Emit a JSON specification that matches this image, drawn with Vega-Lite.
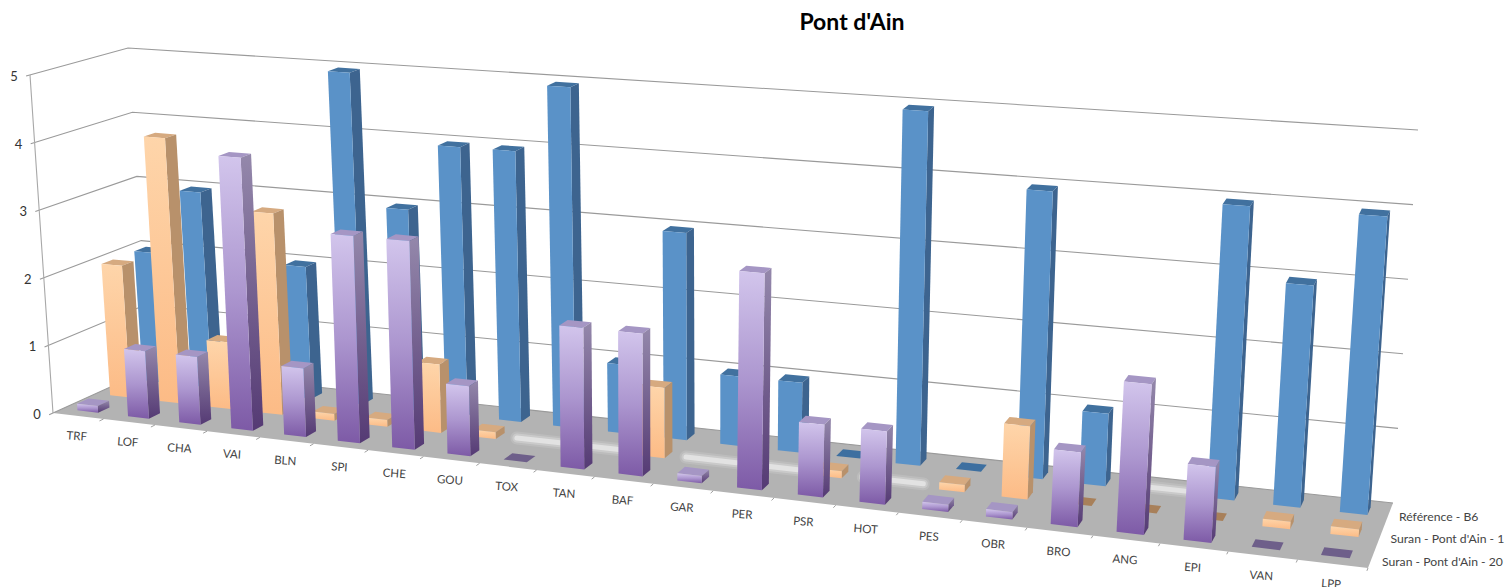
{"$schema":"https://vega.github.io/schema/vega-lite/v6.json","width":1508,"height":587,"autosize":"none","padding":0,"background":"white","config":{"view":{"stroke":null}},
"title":{"text":"Pont d'Ain","font":"Lato","fontSize":23,"fontWeight":"bold","color":"#000000","anchor":"middle","dx":98,"offset":-35},
"datasets":{"levels":[{"value":0},{"value":1},{"value":2},{"value":3},{"value":4},{"value":5}],
"bars":[
{"category":"TRF","series":"Référence - B6","value":2},{"category":"LOF","series":"Référence - B6","value":3},{"category":"CHA","series":"Référence - B6","value":0},{"category":"VAI","series":"Référence - B6","value":2},{"category":"BLN","series":"Référence - B6","value":5},{"category":"SPI","series":"Référence - B6","value":3},{"category":"CHE","series":"Référence - B6","value":4},{"category":"GOU","series":"Référence - B6","value":4},{"category":"TOX","series":"Référence - B6","value":5},{"category":"TAN","series":"Référence - B6","value":1},{"category":"BAF","series":"Référence - B6","value":3},{"category":"GAR","series":"Référence - B6","value":1},{"category":"PER","series":"Référence - B6","value":1},{"category":"PSR","series":"Référence - B6","value":0.01},{"category":"HOT","series":"Référence - B6","value":5},{"category":"PES","series":"Référence - B6","value":0.01},{"category":"OBR","series":"Référence - B6","value":4},{"category":"BRO","series":"Référence - B6","value":1},{"category":"ANG","series":"Référence - B6","value":0},{"category":"EPI","series":"Référence - B6","value":4},{"category":"VAN","series":"Référence - B6","value":3},{"category":"LPP","series":"Référence - B6","value":4},
{"category":"TRF","series":"Suran - Pont d'Ain - 1","value":2},{"category":"LOF","series":"Suran - Pont d'Ain - 1","value":4},{"category":"CHA","series":"Suran - Pont d'Ain - 1","value":1},{"category":"VAI","series":"Suran - Pont d'Ain - 1","value":3},{"category":"BLN","series":"Suran - Pont d'Ain - 1","value":0.1},{"category":"SPI","series":"Suran - Pont d'Ain - 1","value":0.1},{"category":"CHE","series":"Suran - Pont d'Ain - 1","value":1},{"category":"GOU","series":"Suran - Pont d'Ain - 1","value":0.1},{"category":"TOX","series":"Suran - Pont d'Ain - 1","value":0},{"category":"TAN","series":"Suran - Pont d'Ain - 1","value":0},{"category":"BAF","series":"Suran - Pont d'Ain - 1","value":1},{"category":"GAR","series":"Suran - Pont d'Ain - 1","value":0},{"category":"PER","series":"Suran - Pont d'Ain - 1","value":0},{"category":"PSR","series":"Suran - Pont d'Ain - 1","value":0.1},{"category":"HOT","series":"Suran - Pont d'Ain - 1","value":0},{"category":"PES","series":"Suran - Pont d'Ain - 1","value":0.1},{"category":"OBR","series":"Suran - Pont d'Ain - 1","value":1},{"category":"BRO","series":"Suran - Pont d'Ain - 1","value":0.01},{"category":"ANG","series":"Suran - Pont d'Ain - 1","value":0.01},{"category":"EPI","series":"Suran - Pont d'Ain - 1","value":0.01},{"category":"VAN","series":"Suran - Pont d'Ain - 1","value":0.1},{"category":"LPP","series":"Suran - Pont d'Ain - 1","value":0.1},
{"category":"TRF","series":"Suran - Pont d'Ain - 20","value":0.1},{"category":"LOF","series":"Suran - Pont d'Ain - 20","value":1},{"category":"CHA","series":"Suran - Pont d'Ain - 20","value":1},{"category":"VAI","series":"Suran - Pont d'Ain - 20","value":4},{"category":"BLN","series":"Suran - Pont d'Ain - 20","value":1},{"category":"SPI","series":"Suran - Pont d'Ain - 20","value":3},{"category":"CHE","series":"Suran - Pont d'Ain - 20","value":3},{"category":"GOU","series":"Suran - Pont d'Ain - 20","value":1},{"category":"TOX","series":"Suran - Pont d'Ain - 20","value":0.01},{"category":"TAN","series":"Suran - Pont d'Ain - 20","value":2},{"category":"BAF","series":"Suran - Pont d'Ain - 20","value":2},{"category":"GAR","series":"Suran - Pont d'Ain - 20","value":0.1},{"category":"PER","series":"Suran - Pont d'Ain - 20","value":3},{"category":"PSR","series":"Suran - Pont d'Ain - 20","value":1},{"category":"HOT","series":"Suran - Pont d'Ain - 20","value":1},{"category":"PES","series":"Suran - Pont d'Ain - 20","value":0.1},{"category":"OBR","series":"Suran - Pont d'Ain - 20","value":0.1},{"category":"BRO","series":"Suran - Pont d'Ain - 20","value":1},{"category":"ANG","series":"Suran - Pont d'Ain - 20","value":2},{"category":"EPI","series":"Suran - Pont d'Ain - 20","value":1},{"category":"VAN","series":"Suran - Pont d'Ain - 20","value":0.01},{"category":"LPP","series":"Suran - Pont d'Ain - 20","value":0.01}
]},
"encoding":{"x":{"field":"px","type":"quantitative","axis":null,"scale":{"domain":[0,1508],"range":[0,1508],"nice":false,"zero":false}},"y":{"field":"py","type":"quantitative","axis":null,"scale":{"domain":[0,587],"range":[0,587],"nice":false,"zero":false}}},
"layer":[
{"data":{"name":"levels"},"transform":[{"filter":"datum.value==0"},{"calculate":"[{o:0,U:0,D:0},{o:1,U:1,D:0},{o:2,U:1,D:1},{o:3,U:0,D:1}]","as":"c"},{"flatten":["c"]},{"calculate":"datum.c.o","as":"o"},{"calculate":"datum.c.U","as":"U"},{"calculate":"datum.c.D","as":"D"},{"calculate":"datum.value","as":"V"},{"calculate":"datum.U/(datum.U+1.19*(1-datum.U))","as":"w"},{"calculate":"(53*(1-datum.w)+1368*datum.w)*(1-datum.D)+(150*(1-datum.w)+1393*datum.w)*datum.D","as":"x0"},{"calculate":"(30*(1-datum.w)+1397*datum.w)*(1-datum.D)+(128*(1-datum.w)+1418*datum.w)*datum.D","as":"x5"},{"calculate":"(413*(1-datum.w)+568*datum.w)*(1-datum.D)+(369*(1-datum.w)+503*datum.w)*datum.D","as":"y0"},{"calculate":"(75*(1-datum.w)+177*datum.w)*(1-datum.D)+(48*(1-datum.w)+130*datum.w)*datum.D","as":"y5"},{"calculate":"datum.x0+(datum.x5-datum.x0)*datum.V/5","as":"px"},{"calculate":"datum.y0+(datum.y5-datum.y0)*datum.V/5","as":"py"}],
"mark":{"type":"line","fill":"#b3b3b3","strokeWidth":0},"encoding":{"order":{"field":"o","type":"quantitative"}}},
{"data":{"name":"levels"},"transform":[{"calculate":"[{o:0,U:0,D:-0.04},{o:1,U:0,D:1},{o:2,U:1,D:1}]","as":"c"},{"flatten":["c"]},{"calculate":"datum.c.o","as":"o"},{"calculate":"datum.c.U","as":"U"},{"calculate":"datum.c.D","as":"D"},{"calculate":"datum.value","as":"V"},{"calculate":"datum.U/(datum.U+1.19*(1-datum.U))","as":"w"},{"calculate":"(53*(1-datum.w)+1368*datum.w)*(1-datum.D)+(150*(1-datum.w)+1393*datum.w)*datum.D","as":"x0"},{"calculate":"(30*(1-datum.w)+1397*datum.w)*(1-datum.D)+(128*(1-datum.w)+1418*datum.w)*datum.D","as":"x5"},{"calculate":"(413*(1-datum.w)+568*datum.w)*(1-datum.D)+(369*(1-datum.w)+503*datum.w)*datum.D","as":"y0"},{"calculate":"(75*(1-datum.w)+177*datum.w)*(1-datum.D)+(48*(1-datum.w)+130*datum.w)*datum.D","as":"y5"},{"calculate":"datum.x0+(datum.x5-datum.x0)*datum.V/5","as":"px"},{"calculate":"datum.y0+(datum.y5-datum.y0)*datum.V/5","as":"py"}],
"mark":{"type":"line","stroke":"#9a9a9a","strokeWidth":1.1},"encoding":{"order":{"field":"o","type":"quantitative"},"detail":{"field":"value"}}},
{"data":{"name":"levels"},"transform":[{"calculate":"0","as":"U"},{"calculate":"0","as":"D"},{"calculate":"datum.value","as":"V"},{"calculate":"datum.U/(datum.U+1.19*(1-datum.U))","as":"w"},{"calculate":"(53*(1-datum.w)+1368*datum.w)*(1-datum.D)+(150*(1-datum.w)+1393*datum.w)*datum.D","as":"x0"},{"calculate":"(30*(1-datum.w)+1397*datum.w)*(1-datum.D)+(128*(1-datum.w)+1418*datum.w)*datum.D","as":"x5"},{"calculate":"(413*(1-datum.w)+568*datum.w)*(1-datum.D)+(369*(1-datum.w)+503*datum.w)*datum.D","as":"y0"},{"calculate":"(75*(1-datum.w)+177*datum.w)*(1-datum.D)+(48*(1-datum.w)+130*datum.w)*datum.D","as":"y5"},{"calculate":"datum.x0+(datum.x5-datum.x0)*datum.V/5","as":"px"},{"calculate":"datum.y0+(datum.y5-datum.y0)*datum.V/5","as":"py"}],
"layer":[{"mark":{"type":"line","stroke":"#a8a8a8","strokeWidth":1.1},"encoding":{"order":{"field":"value","type":"quantitative"}}},
{"mark":{"type":"text","font":"Lato","fontSize":13,"color":"#333333","dx":-16,"dy":2,"align":"center"},"encoding":{"text":{"field":"value","type":"nominal"}}}]},
{"data":{"name":"bars"},"transform":[
{"window":[{"op":"row_number","as":"rn"}],"groupby":["series"]},
{"calculate":"datum.rn-1","as":"i"},
{"calculate":"indexof([\"Suran - Pont d'Ain - 20\",\"Suran - Pont d'Ain - 1\",\"Référence - B6\"],datum.series)","as":"s"},
{"calculate":"[0.16,0.5,0.84][datum.s]","as":"cd"},
{"calculate":"[{f:'front',o:0,a:-1,b:-1,t:0},{f:'front',o:1,a:1,b:-1,t:0},{f:'front',o:2,a:1,b:-1,t:1},{f:'front',o:3,a:-1,b:-1,t:1},{f:'side',o:0,a:1,b:-1,t:0},{f:'side',o:1,a:1,b:1,t:0},{f:'side',o:2,a:1,b:1,t:1},{f:'side',o:3,a:1,b:-1,t:1},{f:'top',o:0,a:-1,b:-1,t:1},{f:'top',o:1,a:1,b:-1,t:1},{f:'top',o:2,a:1,b:1,t:1},{f:'top',o:3,a:-1,b:1,t:1},{f:'glare',o:0,a:-2.4,b:0,t:0},{f:'glare',o:1,a:2.4,b:0,t:0},{f:'label',o:0,a:0,b:-2.667,t:0},{f:'xtick',o:0,a:2.439,b:-2.667,t:0},{f:'xtick',o:1,a:2.439,b:-3.4,t:0},{f:'end',o:0,a:2.439,b:0,t:0}]","as":"c"},
{"flatten":["c"]},
{"calculate":"datum.c.f","as":"face"},{"calculate":"datum.c.o","as":"o"},
{"calculate":"(datum.i+0.5+datum.c.a*0.205)/22","as":"U"},
{"calculate":"datum.cd+datum.c.b*0.06","as":"D"},
{"calculate":"datum.value*datum.c.t*0.992","as":"V"},
{"calculate":"datum.U/(datum.U+1.19*(1-datum.U))","as":"w"},{"calculate":"(53*(1-datum.w)+1368*datum.w)*(1-datum.D)+(150*(1-datum.w)+1393*datum.w)*datum.D","as":"x0"},{"calculate":"(30*(1-datum.w)+1397*datum.w)*(1-datum.D)+(128*(1-datum.w)+1418*datum.w)*datum.D","as":"x5"},{"calculate":"(413*(1-datum.w)+568*datum.w)*(1-datum.D)+(369*(1-datum.w)+503*datum.w)*datum.D","as":"y0"},{"calculate":"(75*(1-datum.w)+177*datum.w)*(1-datum.D)+(48*(1-datum.w)+130*datum.w)*datum.D","as":"y5"},{"calculate":"datum.x0+(datum.x5-datum.x0)*datum.V/5","as":"px"},{"calculate":"datum.y0+(datum.y5-datum.y0)*datum.V/5","as":"py"}],
"encoding":{"order":{"field":"o","type":"quantitative"},"detail":{"field":"category"}},
"layer":[
{"transform":[{"filter":"datum.face=='xtick' && datum.s==0"}],"mark":{"type":"line","stroke":"#a0a0a0","strokeWidth":1}},
{"transform":[{"filter":"datum.face=='glare' && datum.value==0"}],"mark":{"type":"line","stroke":"#ffffff","strokeWidth":13,"strokeCap":"round","opacity":0.12}},
{"transform":[{"filter":"datum.face=='glare' && datum.value==0"}],"mark":{"type":"line","stroke":"#ffffff","strokeWidth":9,"strokeCap":"round","opacity":0.22}},
{"transform":[{"filter":"datum.face=='glare' && datum.value==0"}],"mark":{"type":"line","stroke":"#ffffff","strokeWidth":5,"strokeCap":"round","opacity":0.45}},
{"transform":[{"filter":"datum.s==2 && datum.face=='top' && datum.value<0.05 && datum.value>0"}],"mark":{"type":"line","fill":"#3d6fa0","strokeWidth":0}},
{"transform":[{"filter":"datum.s==2 && datum.face=='top' && datum.value>=0.05"}],"mark":{"type":"line","fill":"#41719f","strokeWidth":0}},
{"transform":[{"filter":"datum.s==2 && datum.face=='side' && datum.value>=0.05"}],"mark":{"type":"line","fill":"#3d648f","strokeWidth":0}},
{"transform":[{"filter":"datum.s==2 && datum.face=='front' && datum.value>=0.05"}],"mark":{"type":"line","fill":"#5a92c8","strokeWidth":0}},
{"transform":[{"filter":"datum.s==1 && datum.face=='top' && datum.value<0.05 && datum.value>0"}],"mark":{"type":"line","fill":"#a8805a","strokeWidth":0}},
{"transform":[{"filter":"datum.s==1 && datum.face=='top' && datum.value>=0.05"}],"mark":{"type":"line","fill":"#d6aa80","strokeWidth":0}},
{"transform":[{"filter":"datum.s==1 && datum.face=='side' && datum.value>=0.05"}],"mark":{"type":"line","fill":"#b8916b","strokeWidth":0}},
{"transform":[{"filter":"datum.s==1 && datum.face=='front' && datum.value>=0.05"}],"mark":{"type":"line","strokeWidth":0,"fill":{"gradient":"linear","x1":0,"y1":0,"x2":0,"y2":1,"stops":[{"offset":0,"color":"#fed5aa"},{"offset":1,"color":"#fcbb86"}]}}},
{"transform":[{"filter":"datum.s==0 && datum.face=='top' && datum.value<0.05 && datum.value>0"}],"mark":{"type":"line","fill":"#6e5f8a","strokeWidth":0}},
{"transform":[{"filter":"datum.s==0 && datum.face=='top' && datum.value>=0.05"}],"mark":{"type":"line","fill":"#a596c4","strokeWidth":0}},
{"transform":[{"filter":"datum.s==0 && datum.face=='side' && datum.value>=0.05"}],"mark":{"type":"line","strokeWidth":0,"fill":{"gradient":"linear","x1":0,"y1":0,"x2":0,"y2":1,"stops":[{"offset":0,"color":"#9488ab"},{"offset":1,"color":"#553a74"}]}}},
{"transform":[{"filter":"datum.s==0 && datum.face=='front' && datum.value>=0.05"}],"mark":{"type":"line","strokeWidth":0,"fill":{"gradient":"linear","x1":0,"y1":0,"x2":0,"y2":1,"stops":[{"offset":0,"color":"#d2c5ec"},{"offset":0.5,"color":"#ac96cf"},{"offset":1,"color":"#7d5aa6"}]}}},
{"transform":[{"filter":"datum.face=='label' && datum.s==0"}],"mark":{"type":"text","font":"Lato","fontSize":11.5,"color":"#444444","dy":21,"angle":4,"align":"center"},"encoding":{"text":{"field":"category","type":"nominal"}}},
{"transform":[{"filter":"datum.face=='end' && datum.i==21"}],"mark":{"type":"text","font":"Lato","fontSize":12.2,"color":"#444444","dx":10,"dy":4,"align":"left"},"encoding":{"text":{"field":"series","type":"nominal"}}}
]}
]}
